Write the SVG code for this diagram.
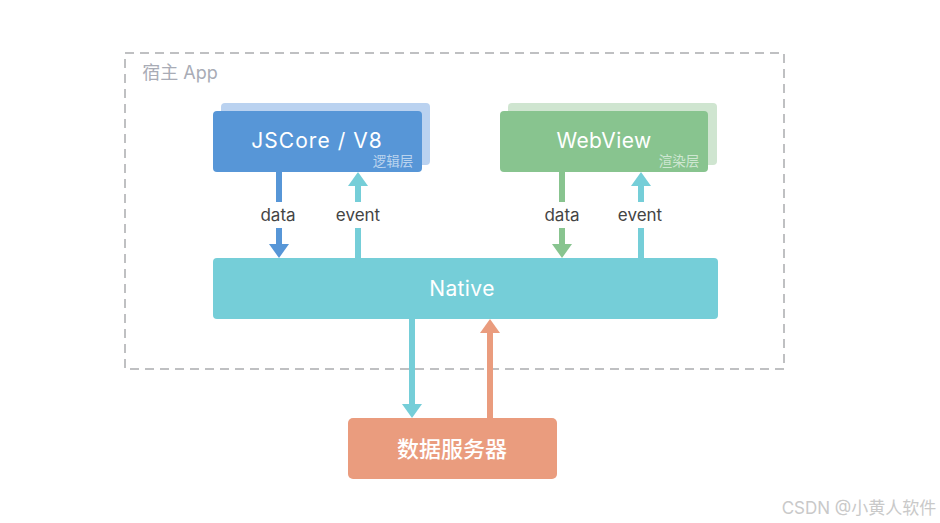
<svg xmlns="http://www.w3.org/2000/svg" width="940" height="523" viewBox="0 0 940 523">
<defs>
<style>
text{font-family:Inter,"Noto Sans CJK SC","Liberation Sans",sans-serif;text-anchor:middle}
.t{fill:#fff;font-size:21px;letter-spacing:.4px}
.s{fill:#fff;fill-opacity:.6;font-size:13.5px}
.l{fill:#444;font-size:17px}
.c{fill:none;stroke-width:6}
.b{stroke:#5796d7}.g{stroke:#88c48f}.n{stroke:#75ced8}.o{stroke:#ea9c7e}
</style>
</defs>
<rect width="940" height="523" fill="#fff"/>
<g id="host-app">
<rect x="125" y="53" width="659" height="316" fill="none" stroke="#bfc0c2" stroke-width="2" stroke-dasharray="9 6"/>
<text x="180" y="79" font-size="18" fill="#a9acb6">宿主 App</text>
</g>
<g id="jscore">
<rect x="221" y="103" width="209" height="62" rx="4" fill="#bad2f0"/>
<rect x="213" y="111" width="209" height="61" rx="4" fill="#5796d7"/>
<text class="t" x="317" y="148" style="letter-spacing:1.05px">JSCore / V8</text>
<text class="s" x="393" y="166">逻辑层</text>
</g>
<g id="webview">
<rect x="508" y="103" width="209" height="62" rx="4" fill="#cfe5d0"/>
<rect x="500" y="111" width="208" height="61" rx="4" fill="#88c48f"/>
<text class="t" x="604" y="148">WebView</text>
<text class="s" x="679" y="166">渲染层</text>
</g>
<g id="native">
<rect x="213" y="258" width="505" height="61" rx="4" fill="#75ced8"/>
<text class="t" x="462" y="296">Native</text>
</g>
<g id="server">
<rect x="348" y="418" width="209" height="61" rx="5" fill="#ea9c7e"/>
<text x="452" y="457" font-size="22" font-weight="500" fill="#fff">数据服务器</text>
</g>
<g id="connectors">
<path class="c b" d="M279 172V202M279 228V244"/>
<path d="M269 244H289L279 258Z" fill="#5796d7"/>
<path class="c n" d="M358 258V228M358 202V186"/>
<path d="M348 186H368L358 172Z" fill="#75ced8"/>
<path class="c g" d="M562 172V202M562 228V244"/>
<path d="M552 244H572L562 258Z" fill="#88c48f"/>
<path class="c n" d="M641 258V228M641 202V186"/>
<path d="M631 186H651L641 172Z" fill="#75ced8"/>
<path class="c n" d="M412 319V404"/>
<path d="M402 404H422L412 418Z" fill="#75ced8"/>
<path class="c o" d="M490 418V333"/>
<path d="M480 333H500L490 319Z" fill="#ea9c7e"/>
</g>
<text class="l" x="278" y="221">data</text>
<text class="l" x="358" y="221">event</text>
<text class="l" x="562" y="221">data</text>
<text class="l" x="640" y="221">event</text>
<text x="859" y="514" font-size="17" fill="#c9c9c9">CSDN @小黄人软件</text>
</svg>
